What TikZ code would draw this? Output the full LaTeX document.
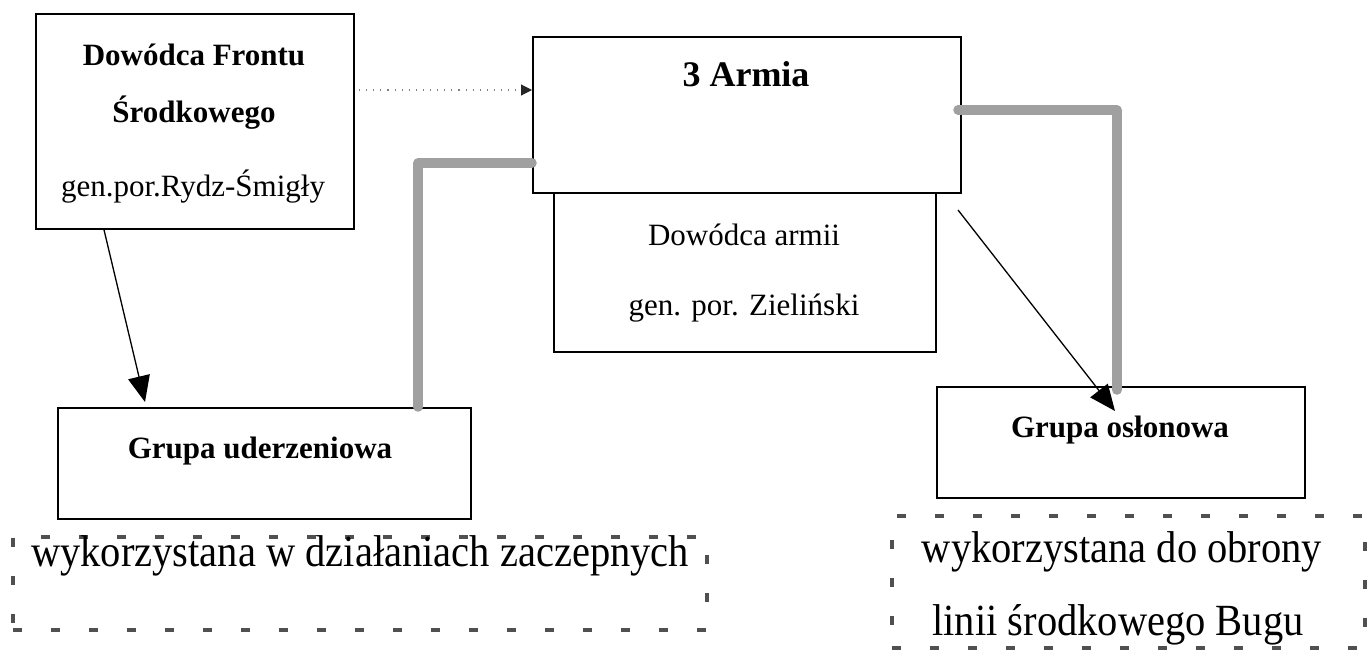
\documentclass[tikz,border=0pt]{standalone}
\usepackage{fontspec}
\usepackage{graphicx}
\setmainfont{Liberation Serif}
\usetikzlibrary{arrows.meta,calc}
\definecolor{conn}{RGB}{160,160,160}
\definecolor{dashc}{RGB}{80,80,80}
\newcommand\tallnote[1]{\scalebox{1}[1.1]{#1}}
\begin{document}
\begin{tikzpicture}[x=1pt,y=-1pt,
  box/.style={draw=black, line width=1.8pt, inner sep=0pt, anchor=north west},
  dbox/.style={draw=dashc, line width=3.5pt, dash pattern=on 9pt off 29pt, inner sep=0pt, anchor=north west},
  txt/.style={inner sep=0pt, font=\fontsize{31}{36}\selectfont},
  btxt/.style={inner sep=0pt, font=\fontsize{31}{36}\selectfont\bfseries},
  bigtxt/.style={inner sep=0pt, font=\fontsize{40.5}{48}\selectfont},
  thick conn/.style={draw=conn, line width=9.5pt, line cap=round, line join=round},
  blackarrow/.style={draw=black, line width=1.3pt, -{Triangle[length=26pt,width=22pt]}},
  dotarrow/.style={draw=gray, line width=1.1pt, dash pattern=on 1.1pt off 6pt, -{Triangle[length=11pt,width=11pt,color=black!85]}}
]
\useasboundingbox[fill=white] (0,0) rectangle (1368,649);

% boxes
\node[box, minimum width=318pt, minimum height=215pt] (front) at (35,13) {};
\node[box, minimum width=428pt, minimum height=156pt] (army) at (532,36) {};
\node[box, minimum width=382pt, minimum height=159pt] (cmd) at (553,192) {};
\node[box, minimum width=413pt, minimum height=111pt] (strike) at (57,407) {};
\node[box, minimum width=368pt, minimum height=111pt] (cover) at (936,386) {};

% texts
\node[btxt] (front1) at (194,55) {Dowódca Frontu};
\node[btxt] (front2) at (194,113) {Środkowego};
\node[txt] (front3) at (193,187) {gen.por.Rydz-Śmigły};
\node[inner sep=0pt, font=\fontsize{36}{42}\selectfont\bfseries] (army1) at (746,74) {3 Armia};
\node[txt] (cmd1) at (744,235) {Dowódca armii};
\node[txt] (cmd2) at (744,308) {gen. por. Zieliński};
\node[btxt] (strike1) at (260,451) {Grupa uderzeniowa};
\node[btxt] (cover1) at (1120,430) {Grupa osłonowa};

% dashed boxes
\node[dbox, minimum width=694pt, minimum height=93pt] (note1) at (11,535) {};
\node[dbox, minimum width=473pt, minimum height=132pt] (note2) at (890,514) {};
\node[bigtxt] (note1t) at (360,556) {\tallnote{wykorzystana w działaniach zaczepnych}};
\node[bigtxt] (note2a) at (1122,552) {\tallnote{wykorzystana do obrony}};
\node[bigtxt] (note2b) at (1118,625) {\tallnote{linii środkowego Bugu}};

% coordinates
\coordinate (dotstart) at (359,90);
\coordinate (dotend) at (532,90);
\coordinate (lstart) at ($(front.south west)+(69,0)$);
\coordinate (lend) at (145,402);
\coordinate (rstart) at (958,210);
\coordinate (rend) at (1115,411);
\coordinate (g1a) at (418,407);
\coordinate (g1b) at (418,163);
\coordinate (g1c) at (532,163);
\coordinate (g2a) at (958,110);
\coordinate (g2b) at (1117,110);
\coordinate (g2c) at (1117,390);

% connectors
\draw[dotarrow] (dotstart) -- (dotend);
\draw[thick conn] (g1a) -- (g1b) -- (g1c);
\draw[thick conn] (g2a) -- (g2b) -- (g2c);
\draw[blackarrow] (lstart) -- (lend);
\draw[blackarrow] (rstart) -- (rend);
\end{tikzpicture}
\end{document}
